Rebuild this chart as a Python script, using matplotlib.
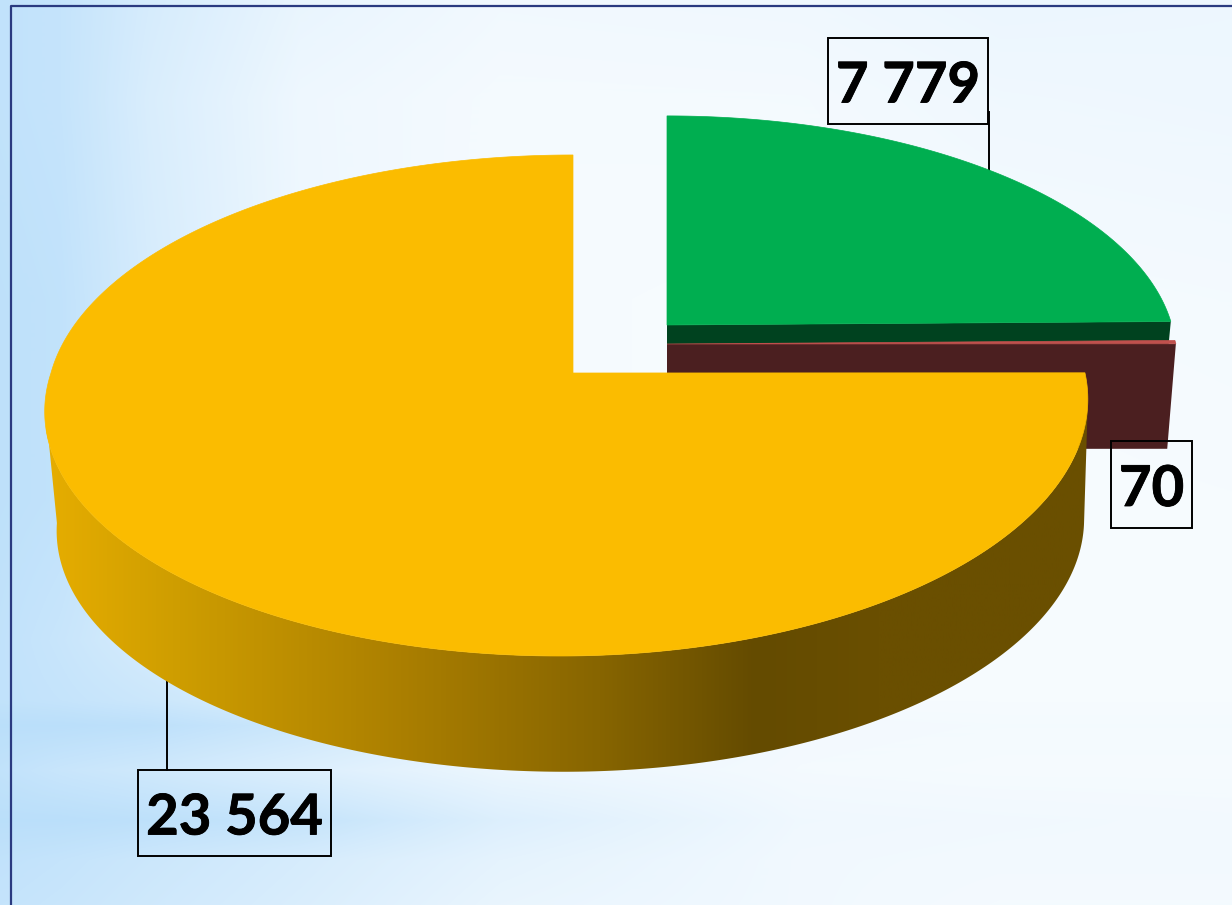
import numpy as np
import matplotlib
matplotlib.use("Agg")
import matplotlib.pyplot as plt
import matplotlib.patheffects as pe
from matplotlib.colors import LinearSegmentedColormap
from matplotlib.patches import Polygon, Rectangle

# slices, clockwise from 12 o'clock
values = [7779, 70, 23564]
labels = ["7 779", "70", "23 564"]
top_colors = ["#00ae50", "#c0504d", "#fbbc00"]
wall_colors = ["#00421f", "#4b1f20", None]

# blueness of the backdrop, 0 is white
bg_x = [0, 60, 150, 300, 500, 800, 1000, 1232]
bg_y = [0, 100, 300, 500, 640, 700, 725, 770, 820, 860, 905]
bg_blue = np.array([
    [0.80, 0.75, 0.50, 0.22, 0.10, 0.12, 0.18, 0.16],
    [0.80, 0.75, 0.45, 0.14, 0.05, 0.06, 0.12, 0.14],
    [0.85, 0.80, 0.50, 0.15, 0.04, 0.02, 0.04, 0.06],
    [0.85, 0.80, 0.55, 0.15, 0.04, 0.02, 0.02, 0.03],
    [0.80, 0.70, 0.50, 0.25, 0.06, 0.02, 0.02, 0.02],
    [0.80, 0.75, 0.65, 0.45, 0.15, 0.03, 0.03, 0.03],
    [0.90, 0.90, 0.85, 0.65, 0.30, 0.08, 0.06, 0.06],
    [0.80, 0.70, 0.60, 0.40, 0.18, 0.06, 0.04, 0.04],
    [0.90, 0.90, 0.85, 0.75, 0.40, 0.12, 0.10, 0.08],
    [0.80, 0.75, 0.65, 0.50, 0.28, 0.10, 0.08, 0.08],
    [0.75, 0.70, 0.60, 0.45, 0.22, 0.10, 0.06, 0.06],
])

plt.rcParams['font.family'] = ['Lato', 'DejaVu Sans']

fig = plt.figure(figsize=(12.32, 9.05), dpi=100)
ax = fig.add_axes([0, 0, 1, 1])

# stretch the anchors out to a full size backdrop
px, py = np.arange(1232), np.arange(905)
by_col = np.array([np.interp(py, bg_y, bg_blue[:, c]) for c in range(len(bg_x))]).T
bg_img = np.array([np.interp(px, bg_x, row) for row in by_col])
bg_cmap = LinearSegmentedColormap.from_list("bg", ["#f8fcff", "#b4dcfa"])
ax.imshow(bg_img, cmap=bg_cmap, vmin=0, vmax=1, aspect='auto', extent=(0, 1232, 905, 0), zorder=0)


def project(angle, apex, wide=1.0, tall=1.0, drop=0.0):
    # angle in degrees clockwise from 12 o'clock, tilted disc with perspective
    t = np.radians(angle)
    x, y = np.sin(t), np.cos(t)
    k = 0.1297
    bx = np.where(x < 0, 522.0, 512.0)
    lean = np.where(y < 0, 13.0 * y, 0.0)
    sx = apex[0] + wide * (bx * x / (1 + k * y) + lean)
    sy = apex[1] - tall * 246.3 * y / (1 + k * y) + drop
    return np.column_stack([sx, sy])


fracs = np.array(values) / np.sum(values)
edges = np.concatenate([[0], np.cumsum(fracs) * 360])

apexes = [(667, 325), (667, 344), (573, 373)]
wides = [0.986, 0.994, 1.0]
talls = [0.959, 0.98, 1.0]
drops = [105, 105, 120]
wall_scale = [0.98, 0.983, 0.985]

# green and red first, yellow sits in front of them
for i in [0, 1]:
    ang = np.linspace(edges[i], edges[i + 1], 200)
    rim = project(ang, apexes[i], wides[i], talls[i])
    low = project(ang[-1:], apexes[i], wides[i] * wall_scale[i], talls[i], drops[i])
    # wall along the closing edge of the slice
    wall = [apexes[i], rim[-1], low[0], (apexes[i][0], apexes[i][1] + drops[i])]
    ax.add_patch(Polygon(wall, closed=True, fc=wall_colors[i], ec='none', zorder=2 + i))
    ax.add_patch(Polygon(np.vstack([[apexes[i]], rim]), closed=True, fc=top_colors[i],
                         ec=top_colors[i], lw=0.5, zorder=2 + i))

# yellow side wall, shaded by hand from left to right
side_ang = np.linspace(97, 263, 300)
side_top = project(side_ang, apexes[2])
low_apex = (apexes[2][0] + 4, apexes[2][1])
side_low = project(side_ang, low_apex, wall_scale[2], wall_scale[2], drops[2])
side = Polygon(np.vstack([side_top, side_low[::-1]]), closed=True, fc='none', ec='none')
ax.add_patch(side)
side_cmap = LinearSegmentedColormap.from_list("side", [
    (0.0, "#e6ad00"), (0.12, "#cf9e00"), (0.34, "#ab7f00"), (0.53, "#876500"),
    (0.68, "#644b00"), (0.80, "#6a4f00"), (1.0, "#6a4f00")])
grad = ax.imshow(np.linspace(0, 1, 512)[None, :], cmap=side_cmap, aspect='auto',
                 extent=(46, 1090, 800, 370), zorder=5)
grad.set_clip_path(side)

yellow = project(np.linspace(edges[2], edges[3], 600), apexes[2])
ax.add_patch(Polygon(np.vstack([[apexes[2]], yellow]), closed=True, fc=top_colors[2],
                     ec=top_colors[2], lw=0.5, zorder=6))

# data labels with boxes and leaders
boxes = [(828, 38, 160, 86), (1111, 441, 81, 87), (138, 770, 193, 86)]
for (bx, by, bw, bh), lab in zip(boxes, labels):
    ax.add_patch(Rectangle((bx, by), bw, bh, fc='none', ec='black', lw=1.4, zorder=8))
    ax.text(bx + bw / 2, by + bh / 2 + 1, lab, fontsize=40.5, fontweight='bold', color='black',
            ha='center', va='center_baseline', zorder=9,
            path_effects=[pe.withStroke(linewidth=0.6, foreground='black')])
ax.plot([989, 989], [112, 170], color='black', lw=1.4, zorder=1)
ax.plot([167, 167], [677, 770], color='black', lw=1.4, zorder=1)

# slide frame
ax.plot([10.5, 10.5, 1232], [905, 6.5, 6.5], color='#2a3a80', lw=1.6, zorder=7)

ax.set_xlim(0, 1232)
ax.set_ylim(905, 0)
ax.axis('off')
fig.savefig("out.png", dpi=100)
